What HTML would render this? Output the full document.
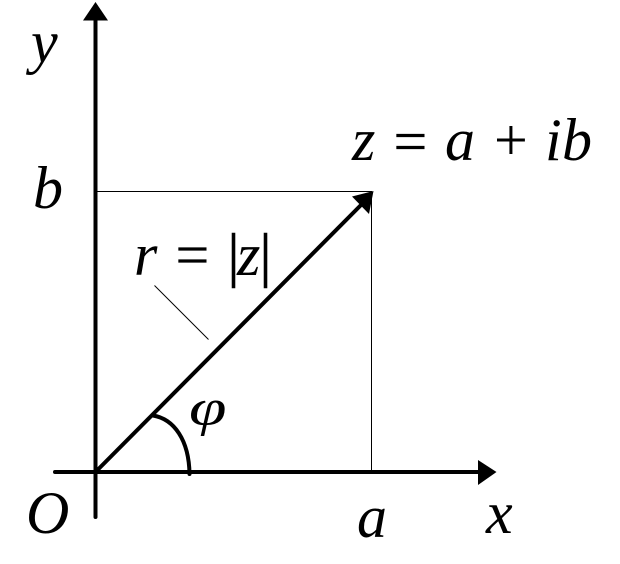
<!DOCTYPE html>
<html>
<head>
<meta charset="utf-8">
<style>
html,body{margin:0;padding:0;background:#fff;width:620px;height:564px;overflow:hidden}
svg{display:block}
text{font-family:"Liberation Serif","DejaVu Serif",serif;font-size:60px;fill:#000}
.i{font-style:italic}
</style>
</head>
<body>
<svg width="620" height="564" viewBox="0 0 620 564" xmlns="http://www.w3.org/2000/svg">
<rect width="620" height="564" fill="#fff"/>
<path d="M95 191.500H371.500V472" fill="none" stroke="#000" stroke-width="1"/>
<path d="M154.500 285.500L208.500 339.500" fill="none" stroke="#000" stroke-width="1"/>
<path d="M95.500 517V18" fill="none" stroke="#000" stroke-width="4" stroke-linecap="round"/>
<path d="M55 472H482" fill="none" stroke="#000" stroke-width="4" stroke-linecap="round"/>
<path d="M95.500 472L362 204" fill="none" stroke="#000" stroke-width="4"/>
<path d="M95.500 2L108 20.500H83Z" fill="#000"/>
<path d="M496.500 472L478 485V460Z" fill="#000"/>
<path d="M373.500 191L369 214L352 196.500Z" fill="#000"/>
<path d="M153 415.500C174 419 189 440 189.500 474" fill="none" stroke="#000" stroke-width="4" stroke-linecap="round"/>
<text class="i" x="31" y="62">y</text>
<text class="i" x="33" y="208">b</text>
<text class="i" x="26" y="533">O</text>
<text class="i" x="357" y="537">a</text>
<text class="i" x="486" y="533">x</text>
<text class="i" transform="translate(189 425) scale(1.13 .87)">φ</text>
<text class="i" x="134" y="275">r</text>
<text x="175.500" y="275" stroke="#000" stroke-width=".3">=</text>
<text x="227.500" y="275" stroke="#000" stroke-width=".6">|</text>
<text class="i" x="237" y="275">z</text>
<text x="259.500" y="275" stroke="#000" stroke-width=".6">|</text>
<text class="i" x="352" y="160">z</text>
<text x="393.500" y="161.500" stroke="#000" stroke-width=".3">=</text>
<text class="i" x="445" y="160">a</text>
<text x="494" y="160">+</text>
<text class="i" x="545" y="160">i</text>
<text class="i" x="562" y="160">b</text>
</svg>
</body>
</html>
